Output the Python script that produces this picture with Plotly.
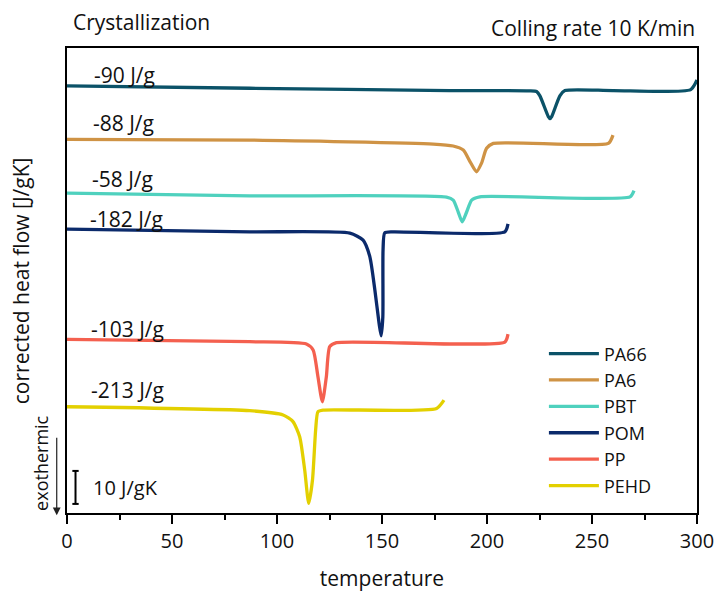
import plotly.graph_objects as go

# ---- data ----
names = ["PA66", "PA6", "PBT", "POM", "PP", "PEHD"]
colors = ["#0B5268", "#CF9345", "#4FD1BE", "#0B2A6B", "#F4604F", "#E3D000"]
enthalpy_labels = ["-90 J/g", "-88 J/g", "-58 J/g", "-182 J/g", "-103 J/g", "-213 J/g"]

t_pa66 = [0, 87, 182, 220, 223.6, 225.2, 229.2, 230.0, 230.8, 234.7, 237.1, 260, 297, 300]
hf_pa66 = [129.4, 128.7, 128.0, 127.9, 127.7, 126.4, 120.1, 119.5, 120.1, 126.4, 128.0, 128.0, 128.3, 131.2]

t_pa6 = [0, 87, 174.4, 183.9, 188.7, 191.9, 195.0, 197.4, 199.8, 203.0, 257.8, 260]
hf_pa6 = [113.2, 113.0, 111.8, 111.2, 110.0, 106.5, 103.4, 106.0, 110.5, 112.0, 112.0, 114.5]

t_pbt = [0, 87, 180.7, 183.9, 186.3, 188.2, 190.3, 192.7, 196.6, 268.1, 270]
hf_pbt = [96.9, 96.1, 95.7, 94.8, 91.2, 88.2, 91.2, 94.8, 95.8, 95.8, 97.7]

t_pom = [0, 87, 134.7, 141.0, 144.2, 146.6, 148.6, 149.6, 150.4, 150.5, 151.3, 155.3, 208.5, 210]
hf_pom = [86.0, 85.2, 84.8, 82.7, 77.7, 67.6, 57.5, 53.7, 59.5, 79.7, 84.9, 85.2, 85.2, 87.6]

t_pp = [0, 87, 114.0, 117.2, 119.5, 121.6, 123.5, 125.1, 128.3, 208.5, 210]
hf_pp = [52.6, 51.9, 51.2, 49.4, 41.3, 33.7, 41.3, 50.4, 51.6, 51.8, 54.2]

t_pehd = [0, 87, 102.9, 107.6, 110.8, 113.2, 115.1, 116.9, 118.4, 119.5, 121.9, 176.0, 179.5]
hf_pehd = [32.2, 31.0, 29.7, 27.7, 23.1, 13.0, 2.9, 10.0, 25.2, 30.7, 31.2, 31.7, 34.2]

temps = [t_pa66, t_pa6, t_pbt, t_pom, t_pp, t_pehd]
flows = [hf_pa66, hf_pa6, hf_pbt, hf_pom, hf_pp, hf_pehd]

x_ticks = [0, 50, 100, 150, 200, 250, 300]
scale_bar = 10  # J/gK

FONT = "Open Sans"
TXT = "#111111"

fig = go.Figure()
for n, c, t, f in zip(names, colors, temps, flows):
    fig.add_trace(go.Scatter(x=t, y=f, name=n, mode="lines",
                             line=dict(color=c, width=3.3, shape="spline", smoothing=0.6)))

# enthalpy labels (anchored just above each curve's start)
label_x = [12.0, 11.6, 11.1, 9.8, 10.3, 10.3]
label_y = [132.7, 118.3, 101.1, 89.1, 55.7, 37.3]
for txt, lx, ly in zip(enthalpy_labels, label_x, label_y):
    fig.add_annotation(x=lx, y=ly, text=txt, showarrow=False, xanchor="left", yanchor="middle",
                       font=dict(family=FONT, size=21, color=TXT))

# scale bar
sb_x, sb_y0 = 4.05, 2.75
fig.add_shape(type="line", x0=sb_x, x1=sb_x, y0=sb_y0, y1=sb_y0 + scale_bar, line=dict(color="black", width=2))
fig.add_shape(type="line", x0=sb_x - 1.5, x1=sb_x + 1.5, y0=sb_y0, y1=sb_y0, line=dict(color="black", width=2))
fig.add_shape(type="line", x0=sb_x - 1.5, x1=sb_x + 1.5, y0=sb_y0 + scale_bar, y1=sb_y0 + scale_bar,
              line=dict(color="black", width=2))
fig.add_annotation(x=11.5, y=sb_y0 + scale_bar / 2, text=f"{scale_bar} J/gK", showarrow=False,
                   xanchor="left", yanchor="middle", font=dict(family=FONT, size=20, color=TXT))

# exothermic arrow
fig.add_annotation(xref="paper", yref="paper", x=-0.0163, y=-0.005, ax=0, ay=-79,
                   text="", showarrow=True, arrowhead=2, arrowsize=1.3, arrowwidth=1.2, arrowcolor="#222")
fig.add_annotation(xref="paper", yref="paper", x=-0.041, y=0.106, text="exothermic", textangle=-90,
                   showarrow=False, xanchor="center", yanchor="middle",
                   font=dict(family=FONT, size=18, color=TXT))

# y-axis title
fig.add_annotation(xref="paper", yref="paper", x=-0.0735, y=0.5, text="corrected heat flow [J/gK]",
                   textangle=-90, showarrow=False, xanchor="center", yanchor="middle",
                   font=dict(family=FONT, size=21, color=TXT))

# titles
fig.add_annotation(xref="paper", yref="paper", x=0.007, y=1.0, yshift=26, text="Crystallization",
                   showarrow=False, xanchor="left", yanchor="middle",
                   font=dict(family=FONT, size=21, color=TXT))
fig.add_annotation(xref="paper", yref="paper", x=1.0, y=1.0, yshift=20, text="Colling rate 10 K/min",
                   showarrow=False, xanchor="right", yanchor="middle",
                   font=dict(family=FONT, size=21, color=TXT))

fig.update_layout(
    width=715, height=592,
    margin=dict(l=67, r=18, t=48, b=79, autoexpand=False),
    paper_bgcolor="white", plot_bgcolor="white",
    font=dict(family=FONT, size=20, color=TXT),
    showlegend=True,
    legend=dict(x=0.757, y=0.382, xanchor="left", yanchor="top", bgcolor="rgba(0,0,0,0)",
                font=dict(family=FONT, size=18, color=TXT), itemwidth=50, tracegroupgap=0),
    xaxis=dict(range=[0, 300], tickvals=x_ticks, ticks="outside", ticklen=9, tickwidth=1.5,
               tickcolor="black", showline=True, linecolor="black", linewidth=1.5, mirror=True,
               showgrid=False, zeroline=False, automargin=False,
               title=dict(text="temperature", font=dict(size=21), standoff=20),
               tickfont=dict(size=20),
               minor=dict(dtick=25, tick0=0, ticks="outside", ticklen=5, tickwidth=1.5, tickcolor="black")),
    yaxis=dict(range=[0, 140.9], showticklabels=False, ticks="", showline=True, linecolor="black",
               linewidth=1.5, mirror=True, showgrid=False, zeroline=False, automargin=False),
)

fig.write_html("out.html", config={"displayModeBar": False},
               post_script="document.body.style.margin='0px';")
